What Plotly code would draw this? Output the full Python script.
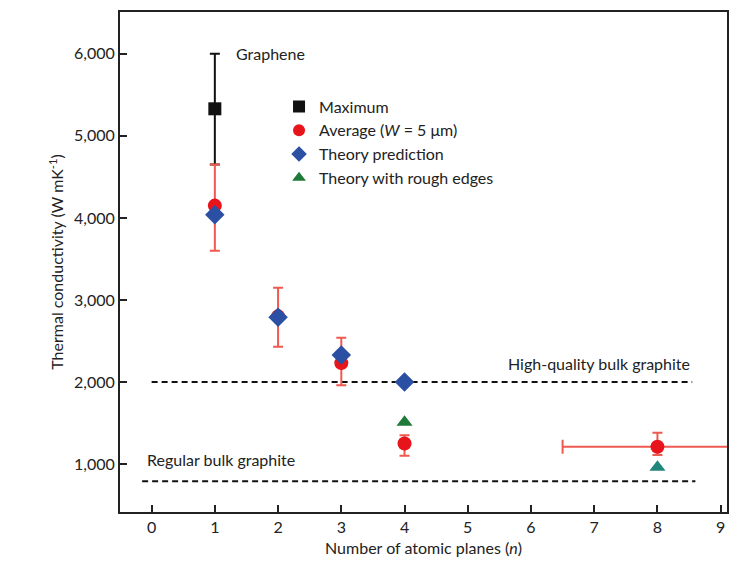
import plotly.graph_objects as go

# Data
max_n = [1]
max_k = [5330]
max_err_plus = [670]
max_err_minus = [680]

avg_n = [1, 2, 3, 4, 8]
avg_k = [4150, 2800, 2230, 1250, 1210]
avg_err_plus = [500, 350, 310, 100, 170]
avg_err_minus = [550, 370, 270, 150, 100]
avg_xerr_plus = [0, 0, 0, 0, 1.5]
avg_xerr_minus = [0, 0, 0, 0, 1.5]

theory_n = [1, 2, 3, 4]
theory_k = [4040, 2790, 2330, 2000]

rough_n = [4, 8]
rough_k = [1510, 960]
rough_colors = ["#1f7a3a", "#22857a"]

hq_x = [0, 8.55]
hq_k = [2000, 2000]
reg_x = [-0.15, 8.6]
reg_k = [790, 790]

x_ticks = [0, 1, 2, 3, 4, 5, 6, 7, 8, 9]
y_ticks = [1000, 2000, 3000, 4000, 5000, 6000]

FONT = "Lato, 'Open Sans', sans-serif"
fig = go.Figure()

fig.add_trace(go.Scatter(x=hq_x, y=hq_k, mode="lines", showlegend=False,
                         line=dict(color="#111", width=2, dash="6px,4px")))
fig.add_trace(go.Scatter(x=reg_x, y=reg_k, mode="lines", showlegend=False,
                         line=dict(color="#111", width=2, dash="6px,4px")))

fig.add_trace(go.Scatter(
    x=max_n, y=max_k, mode="markers", name="Maximum",
    marker=dict(symbol="square", size=13, color="#111"),
    error_y=dict(type="data", symmetric=False, array=max_err_plus,
                 arrayminus=max_err_minus, color="#111", thickness=2, width=5)))

fig.add_trace(go.Scatter(
    x=avg_n, y=avg_k, mode="markers", name="Average (<i>W</i> = 5 μm)",
    marker=dict(symbol="circle", size=14, color="#e8141c"),
    error_y=dict(type="data", symmetric=False, array=avg_err_plus,
                 arrayminus=avg_err_minus, color="#ee5a50", thickness=2, width=5),
    error_x=dict(type="data", symmetric=False, array=avg_xerr_plus,
                 arrayminus=avg_xerr_minus, color="#ee5a50", thickness=2, width=7)))

fig.add_trace(go.Scatter(
    x=theory_n, y=theory_k, mode="markers", name="Theory prediction",
    marker=dict(symbol="diamond", size=15, color="#2a4fa3")))

fig.add_trace(go.Scatter(
    x=rough_n, y=rough_k, mode="markers", name="Theory with rough edges",
    marker=dict(symbol="triangle-up", size=14, color=rough_colors)))

fig.add_annotation(x=1.3, y=6000, text="Graphene", showarrow=False,
                   xanchor="left", yanchor="middle", font=dict(size=16, color="#222"))
fig.add_annotation(x=8.55, y=2230, text="High-quality bulk graphite", showarrow=False,
                   xanchor="right", yanchor="middle", font=dict(size=16, color="#222"))
fig.add_annotation(x=-0.1, y=1060, text="Regular bulk graphite", showarrow=False,
                   xanchor="left", yanchor="middle", font=dict(size=16, color="#222"))

fig.update_layout(
    width=734, height=571,
    margin=dict(l=120, r=5, t=12, b=59),
    paper_bgcolor="white", plot_bgcolor="white",
    font=dict(family=FONT, size=15, color="#222"),
    legend=dict(x=0.262, y=0.845, xanchor="left", yanchor="top",
                bgcolor="rgba(0,0,0,0)", font=dict(size=16),
                itemsizing="constant", tracegroupgap=0),
    showlegend=True,
)
fig.update_xaxes(range=[-0.5, 9.1], tickvals=x_ticks, ticks="inside", ticklen=7,
                 tickwidth=2, tickcolor="#222", showline=True, linewidth=2,
                 linecolor="#222", mirror=True, showgrid=False, zeroline=False,
                 title=dict(text="Number of atomic planes (<i>n</i>)", standoff=8,
                            font=dict(size=16)),
                 tickfont=dict(size=16))
fig.update_yaxes(range=[415, 6510], tickvals=y_ticks, tickformat=",", ticks="inside",
                 ticklen=7, tickwidth=2, tickcolor="#222", showline=True, linewidth=2,
                 linecolor="#222", mirror=True, showgrid=False, zeroline=False,
                 title=dict(text="Thermal conductivity (W mK<sup>-1</sup>)", standoff=6,
                            font=dict(size=16)),
                 tickfont=dict(size=16))

fig.write_html("out.html")
